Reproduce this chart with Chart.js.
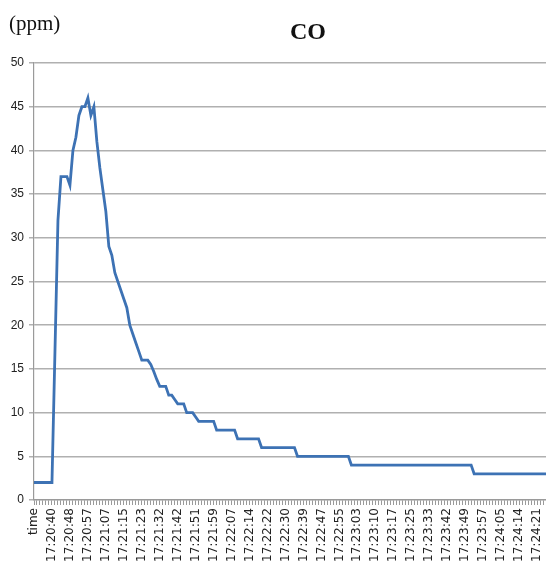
<!DOCTYPE html>
<html>
<head>
<meta charset="utf-8">
<script src="https://cdn.jsdelivr.net/npm/chart.js@4/dist/chart.umd.min.js"></script>
<style>
html,body{margin:0;padding:0;background:#fff;}
#wrap{width:546px;height:568px;position:relative;}
</style>
</head>
<body>
<div id="wrap"><canvas id="c" width="546" height="568"></canvas></div>
<script>
// Visible time labels (every 6th sample)
const timeLabels = ["time","17:20:40","17:20:48","17:20:57","17:21:07","17:21:15","17:21:23","17:21:32","17:21:42","17:21:51","17:21:59","17:22:07","17:22:14","17:22:22","17:22:30","17:22:39","17:22:47","17:22:55","17:23:03","17:23:10","17:23:17","17:23:25","17:23:33","17:23:42","17:23:49","17:23:57","17:24:05","17:24:14","17:24:21"];
const labelEvery = 6;

// CO concentration (ppm), one value per sample
const coValues = [
  2,2,2,2,2,2,2,17,32,37,
  37,37,36,40,41.5,44,45,45,46,44,
  45,41,38,35.5,33,29,28,26,25,24,
  23,22,20,19,18,17,16,16,16,15.5,
  14.7,13.8,13,13,13,12,12,11.5,11,11,
  11,10,10,10,9.5,9,9,9,9,9,
  9,8,8,8,8,8,8,8,7,7,
  7,7,7,7,7,7,6,6,6,6,
  6,6,6,6,6,6,6,6,5,5,
  5,5,5,5,5,5,5,5,5,5,
  5,5,5,5,5,5,4,4,4,4,
  4,4,4,4,4,4,4,4,4,4,
  4,4,4,4,4,4,4,4,4,4,
  4,4,4,4,4,4,4,4,4,4,
  4,4,4,4,4,4,4,3,3,3,
  3,3,3,3,3,3,3,3,3,3,
  3,3,3,3,3,3,3,3,3,3,
  3,3
];

const yTicksMin = 0, yTicksMax = 50, yStep = 5;

const categories = coValues.map((v, i) => (i % labelEvery === 0 && timeLabels[i / labelEvery] !== undefined) ? timeLabels[i / labelEvery] : "");

const textPlugin = {
  id: 'texts',
  afterDraw(chart) {
    const ctx = chart.ctx;
    ctx.save();
    ctx.fillStyle = '#111';
    ctx.textBaseline = 'alphabetic';
    ctx.font = '21px "Liberation Serif", "Times New Roman", serif';
    ctx.textAlign = 'left';
    ctx.fillText('(ppm)', 9, 30);
    ctx.font = 'bold 24px "Liberation Serif", "Times New Roman", serif';
    ctx.textAlign = 'center';
    ctx.fillText('CO', 308, 39);
    ctx.restore();
  }
};

new Chart(document.getElementById('c'), {
  type: 'line',
  data: {
    labels: categories,
    datasets: [{
      data: coValues,
      borderColor: '#3d72b4',
      borderWidth: 2.8,
      pointRadius: 0,
      tension: 0,
      fill: false
    }]
  },
  options: {
    responsive: false,
    animation: false,
    layout: { padding: { top: 63, right: 0, left: 0, bottom: 0 } },
    plugins: { legend: { display: false }, tooltip: { enabled: false }, title: { display: false } },
    scales: {
      x: {
        offset: false,
        grid: { display: true, drawOnChartArea: false, drawTicks: true, tickLength: 5, color: '#9a9a9a', lineWidth: 1 },
        border: { color: '#9a9a9a', width: 1.2 },
        ticks: {
          autoSkip: false, maxRotation: 90, minRotation: 90, padding: 3,
          color: '#222', font: { family: '"DejaVu Sans", sans-serif', size: 12 }
        },
        afterFit(scale) { scale.height = 68; scale.paddingRight = 0; scale.paddingLeft = 0; }
      },
      y: {
        min: yTicksMin, max: yTicksMax,
        grid: { color: '#b0b0b0', lineWidth: 1.5, tickLength: 5 },
        border: { color: '#9a9a9a', width: 1.2 },
        ticks: {
          stepSize: yStep, padding: 5,
          color: '#222', font: { family: '"Liberation Sans", Arial, sans-serif', size: 12 }
        },
        afterFit(scale) { scale.width = 34; scale.paddingTop = 0; scale.paddingBottom = 0; }
      }
    }
  },
  plugins: [textPlugin]
});
</script>
</body>
</html>
